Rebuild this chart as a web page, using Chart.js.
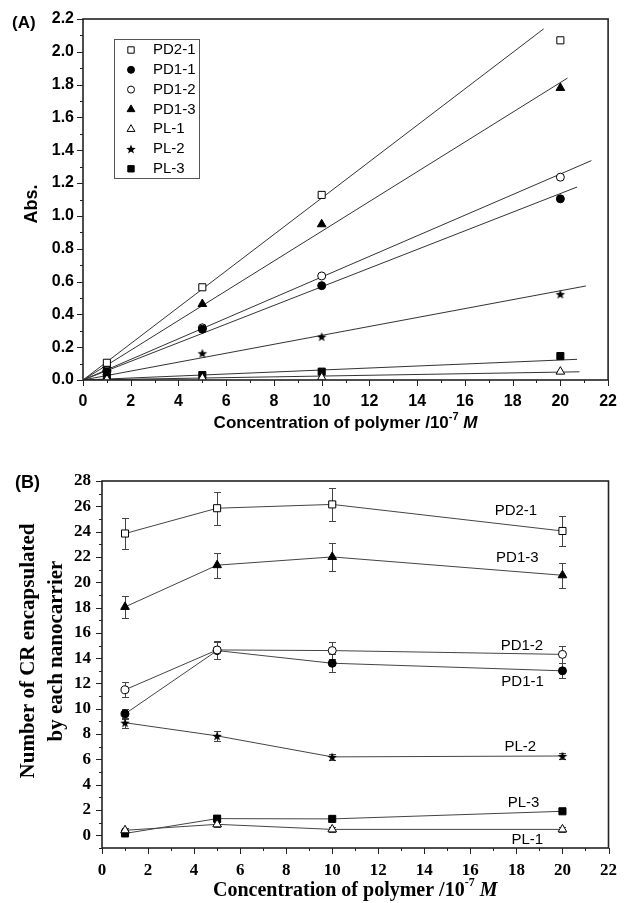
<!DOCTYPE html>
<html lang="en">
<head>
  <meta charset="UTF-8" />
  <title>CR absorbance and encapsulation</title>
  <script src="https://cdn.jsdelivr.net/npm/chart.js@4.4.0/dist/chart.umd.min.js"></script>
  <style>
    * { margin: 0; padding: 0; box-sizing: border-box; }
    body { background: #fff; width: 629px; height: 903px; overflow: hidden; position: relative; }
    .panel { position: absolute; left: 0; width: 629px; }
    #panelA { top: 0; height: 440px; }
    #panelB { top: 440px; height: 463px; }
  </style>
</head>
<body>
  <div class="panel" id="panelA"><canvas id="chartA" width="629" height="440"></canvas></div>
  <div class="panel" id="panelB"><canvas id="chartB" width="629" height="463"></canvas></div>

  <script>
    // ---- data ----
    const seriesNames = ["PD2-1", "PD1-1", "PD1-2", "PD1-3", "PL-1", "PL-2", "PL-3"];
    const concentrations = [1, 5, 10, 20];

    // (A) absorbance
    const absPD21 = [0.105, 0.565, 1.128, 2.07];
    const absPD11 = [0.05, 0.31, 0.575, 1.104];
    const absPD12 = [0.057, 0.318, 0.634, 1.236];
    const absPD13 = [0.09, 0.463, 0.949, 1.78];
    const absPL1 = [0.005, 0.012, 0.015, 0.051];
    const absPL2 = [0.03, 0.163, 0.264, 0.523];
    const absPL3 = [0.015, 0.03, 0.051, 0.146];
    const absSeries = [absPD21, absPD11, absPD12, absPD13, absPL1, absPL2, absPL3];

    // (A) linear fits, from the origin to these end points
    const fitEndX = [19.3, 20.7, 21.3, 20.3, 20.8, 21.07, 20.7];
    const fitEndY = [2.14, 1.176, 1.337, 1.84, 0.05, 0.573, 0.126];

    // (B) number of CR per nanocarrier, with error bars
    const crPD21 = [23.85, 25.85, 26.15, 24.05];
    const crPD11 = [9.6, 14.6, 13.6, 13.0];
    const crPD12 = [11.5, 14.65, 14.6, 14.3];
    const crPD13 = [18.05, 21.35, 22.0, 20.55];
    const crPL1 = [0.4, 0.87, 0.47, 0.47];
    const crPL2 = [8.9, 7.86, 6.2, 6.27];
    const crPL3 = [0.15, 1.32, 1.3, 1.9];
    const crSeries = [crPD21, crPD11, crPD12, crPD13, crPL1, crPL2, crPL3];

    const errPD21 = [1.2, 1.3, 1.3, 1.2];
    const errPD11 = [0.4, 0.7, 0.7, 0.6];
    const errPD12 = [0.6, 0.7, 0.7, 0.7];
    const errPD13 = [0.9, 1.0, 1.1, 1.0];
    const errPL1 = [0.2, 0.2, 0.2, 0.2];
    const errPL2 = [0.4, 0.4, 0.25, 0.25];
    const errPL3 = [0.1, 0.1, 0.1, 0.1];
    const errSeries = [errPD21, errPD11, errPD12, errPD13, errPL1, errPL2, errPL3];

    // (B) series name anchors, in data units
    const nameX = [17.98, 18.27, 18.24, 18.04, 18.47, 18.17, 18.31];
    const nameY = [25.63, 12.13, 14.98, 21.9, -0.34, 6.99, 2.59];

    // tick labels
    const xTicks = [0, 2, 4, 6, 8, 10, 12, 14, 16, 18, 20, 22];
    const yTicksA = [0, 0.2, 0.4, 0.6, 0.8, 1.0, 1.2, 1.4, 1.6, 1.8, 2.0, 2.2];
    const yTicksB = [0, 2, 4, 6, 8, 10, 12, 14, 16, 18, 20, 22, 24, 26, 28];

    // ---- marker styles ----
    function makeStar(r) {
      const c = document.createElement("canvas");
      const s = Math.ceil(r * 2) + 2;
      c.width = c.height = s;
      const g = c.getContext("2d");
      g.beginPath();
      for (let i = 0; i < 10; i++) {
        const a = -Math.PI / 2 + i * Math.PI / 5;
        const rr = i % 2 ? r * 0.42 : r;
        g.lineTo(s / 2 + rr * Math.cos(a), s / 2 + rr * Math.sin(a) + 0.5);
      }
      g.closePath();
      g.fillStyle = "#000";
      g.fill();
      return c;
    }
    const star = makeStar(5);

    const markers = [
      { style: "rect", fill: false, r: 5 },
      { style: "circle", fill: true, r: 4 },
      { style: "circle", fill: false, r: 4 },
      { style: "triangle", fill: true, r: 5 },
      { style: "triangle", fill: false, r: 5 },
      { style: star, fill: true, r: 5 },
      { style: "rect", fill: true, r: 5 }
    ];

    const SANS = "'Liberation Sans', Arial, sans-serif";
    const SERIF = "'Liberation Serif', 'Times New Roman', serif";

    // ---- plugins ----
    function drawTicks(ctx, scale, horizontal, minorStep, a) {
      const majors = scale.ticks.map(t => t.value);
      for (let v = scale.min; v <= scale.max + 1e-9; v += minorStep) {
        const isMajor = majors.some(m => Math.abs(m - v) < 1e-6);
        const len = isMajor ? 6 : 3;
        const p = Math.round(scale.getPixelForValue(v)) + 0.5;
        ctx.beginPath();
        if (horizontal) { ctx.moveTo(p, a.bottom); ctx.lineTo(p, a.bottom + len); }
        else { ctx.moveTo(a.left, p); ctx.lineTo(a.left - len, p); }
        ctx.stroke();
      }
    }

    function drawRichText(ctx, parts, cx, cy) {
      let total = 0;
      parts.forEach(p => { ctx.font = p.font; p.w = ctx.measureText(p.t).width; total += p.w; });
      let x = cx - total / 2;
      ctx.textAlign = "left";
      ctx.textBaseline = "middle";
      parts.forEach(p => {
        ctx.font = p.font;
        ctx.fillText(p.t, x, cy + (p.dy || 0));
        x += p.w;
      });
    }

    const framePlugin = {
      id: "frame",
      afterDraw(chart, args, o) {
        const { ctx, chartArea: a, scales } = chart;
        ctx.save();
        ctx.strokeStyle = "#222";
        ctx.lineWidth = 1;
        drawTicks(ctx, scales.x, true, o.xMinor, a);
        drawTicks(ctx, scales.y, false, o.yMinor, a);
        ctx.lineWidth = 1.6;
        ctx.strokeRect(a.left, a.top, a.right - a.left, a.bottom - a.top);

        ctx.fillStyle = "#000";
        // panel letter
        ctx.font = o.letterFont;
        ctx.textAlign = "left";
        ctx.textBaseline = "middle";
        ctx.fillText(o.letter, o.letterX, o.letterY);
        // x title with superscript and italic M
        const big = o.titleSize, sup = Math.round(o.titleSize * 0.62);
        drawRichText(ctx, [
          { t: "Concentration of polymer /10", font: `bold ${big}px ${o.titleFamily}` },
          { t: "-7", font: `bold ${sup}px ${o.titleFamily}`, dy: -big * 0.38 },
          { t: " M", font: `italic bold ${big}px ${o.titleFamily}` }
        ], (a.left + a.right) / 2, o.xTitleY);
        // y title lines
        ctx.font = `bold ${o.yTitleSize}px ${o.titleFamily}`;
        ctx.textAlign = "center";
        o.yTitle.forEach((line, i) => {
          ctx.save();
          ctx.translate(o.yTitleX[i], o.yTitleY);
          ctx.rotate(-Math.PI / 2);
          ctx.fillText(line, 0, 0);
          ctx.restore();
        });
        ctx.restore();
      }
    };

    const legendPlugin = {
      id: "boxLegend",
      afterDraw(chart, args, o) {
        if (!o.show) return;
        const { ctx } = chart;
        ctx.save();
        ctx.strokeStyle = "#555";
        ctx.lineWidth = 1;
        ctx.strokeRect(114.5, 39.5, 85, 139);
        ctx.font = "15px " + SANS;
        ctx.textAlign = "left";
        ctx.textBaseline = "middle";
        seriesNames.forEach((name, i) => {
          const y = 50 + i * 19.8;
          const m = markers[i];
          ctx.fillStyle = m.fill ? "#000" : "#fff";
          ctx.strokeStyle = "#000";
          ctx.lineWidth = 1;
          Chart.helpers.drawPoint(ctx, { pointStyle: m.style, radius: m.r - 0.5, rotation: 0, borderWidth: 1 }, 131, y);
          ctx.fillStyle = "#000";
          ctx.fillText(name, 153, y);
        });
        ctx.restore();
      }
    };

    const errorBarPlugin = {
      id: "errorBars",
      beforeDatasetsDraw(chart) {
        const { ctx, scales: { x, y } } = chart;
        ctx.save();
        ctx.strokeStyle = "#444";
        ctx.lineWidth = 1;
        chart.data.datasets.forEach(ds => {
          if (!ds.errors) return;
          ds.data.forEach((pt, i) => {
            const px = Math.round(x.getPixelForValue(pt.x)) + 0.5;
            const top = Math.round(y.getPixelForValue(pt.y + ds.errors[i])) + 0.5;
            const bot = Math.round(y.getPixelForValue(pt.y - ds.errors[i])) + 0.5;
            ctx.beginPath();
            ctx.moveTo(px, top); ctx.lineTo(px, bot);
            ctx.moveTo(px - 3.5, top); ctx.lineTo(px + 3.5, top);
            ctx.moveTo(px - 3.5, bot); ctx.lineTo(px + 3.5, bot);
            ctx.stroke();
          });
        });
        ctx.restore();
      }
    };

    const namePlugin = {
      id: "seriesNames",
      afterDraw(chart, args, o) {
        if (!o.show) return;
        const { ctx, scales: { x, y } } = chart;
        ctx.save();
        ctx.fillStyle = "#000";
        ctx.font = "15px " + SANS;
        ctx.textAlign = "center";
        ctx.textBaseline = "middle";
        seriesNames.forEach((n, i) => ctx.fillText(n, x.getPixelForValue(nameX[i]), y.getPixelForValue(nameY[i])));
        ctx.restore();
      }
    };

    function fixedTicks(values) {
      return scale => { scale.ticks = values.map(v => ({ value: v })); };
    }

    function pointDataset(name, values, i, extra) {
      const m = markers[i];
      return Object.assign({
        label: name,
        data: values.map((v, k) => ({ x: concentrations[k], y: v })),
        pointStyle: m.style,
        pointRadius: m.r,
        pointHoverRadius: m.r,
        pointBackgroundColor: m.fill ? "#000" : "#fff",
        pointBorderColor: "#000",
        pointBorderWidth: 1,
        borderColor: "#444",
        borderWidth: 1,
        showLine: false,
        order: i
      }, extra || {});
    }

    // ---- chart A ----
    const dataA = [];
    seriesNames.forEach((name, i) => {
      dataA.push({
        label: name + " fit",
        data: [{ x: 0, y: 0 }, { x: fitEndX[i], y: fitEndY[i] }],
        borderColor: "#333",
        borderWidth: 1,
        pointRadius: 0,
        showLine: true,
        order: 20
      });
      dataA.push(pointDataset(name, absSeries[i], i));
    });

    new Chart(document.getElementById("chartA"), {
      type: "scatter",
      data: { datasets: dataA },
      options: {
        responsive: false,
        animation: false,
        layout: { padding: { left: 0, top: 19, right: 11, bottom: 0 } },
        plugins: {
          legend: { display: false },
          tooltip: { enabled: false },
          frame: {
            xMinor: 1, yMinor: 0.1,
            letter: "(A)", letterX: 12, letterY: 23, letterFont: "bold 17px " + SANS,
            titleFamily: SANS, titleSize: 17, xTitleY: 423,
            yTitle: ["Abs."], yTitleX: [32], yTitleY: 204, yTitleSize: 18
          },
          boxLegend: { show: true },
          seriesNames: { show: false }
        },
        scales: {
          x: {
            type: "linear", min: 0, max: 22,
            afterBuildTicks: fixedTicks(xTicks),
            afterFit: s => { s.height = 60; },
            grid: { display: false, drawTicks: false },
            border: { display: false },
            ticks: { padding: 12, color: "#000", font: { family: SANS, size: 16, weight: "bold" }, maxRotation: 0 }
          },
          y: {
            type: "linear", min: 0, max: 2.2,
            afterBuildTicks: fixedTicks(yTicksA),
            afterFit: s => { s.width = 83; },
            grid: { display: false, drawTicks: false },
            border: { display: false },
            ticks: { padding: 9, color: "#000", font: { family: SANS, size: 16, weight: "bold" }, callback: v => v.toFixed(1) }
          }
        }
      },
      plugins: [framePlugin, legendPlugin]
    });

    // ---- chart B ----
    const dataB = seriesNames.map((name, i) => pointDataset(name, crSeries[i], i, {
      showLine: true,
      errors: errSeries[i],
      pointRadius: markers[i].r,
      order: i === 2 ? 0 : i + 1
    }));

    new Chart(document.getElementById("chartB"), {
      type: "scatter",
      data: { datasets: dataB },
      options: {
        responsive: false,
        animation: false,
        layout: { padding: { left: 0, top: 41, right: 15, bottom: 0 } },
        plugins: {
          legend: { display: false },
          tooltip: { enabled: false },
          frame: {
            xMinor: 1, yMinor: 1,
            letter: "(B)", letterX: 15, letterY: 43, letterFont: "bold 18px " + SANS,
            titleFamily: SERIF, titleSize: 20, xTitleY: 451,
            yTitle: ["Number of CR encapsulated", "by each nanocarrier"], yTitleX: [29, 57], yTitleY: 211, yTitleSize: 21
          },
          boxLegend: { show: false },
          seriesNames: { show: true }
        },
        scales: {
          x: {
            type: "linear", min: 0, max: 22,
            afterBuildTicks: fixedTicks(xTicks),
            afterFit: s => { s.height = 55; },
            grid: { display: false, drawTicks: false },
            border: { display: false },
            ticks: { padding: 12, color: "#000", font: { family: SERIF, size: 17, weight: "bold" }, maxRotation: 0 }
          },
          y: {
            type: "linear", min: -1, max: 28,
            afterBuildTicks: fixedTicks(yTicksB),
            afterFit: s => { s.width = 102; },
            grid: { display: false, drawTicks: false },
            border: { display: false },
            ticks: { padding: 11, color: "#000", font: { family: SERIF, size: 17, weight: "bold" } }
          }
        }
      },
      plugins: [framePlugin, errorBarPlugin, namePlugin]
    });
  </script>
</body>
</html>
